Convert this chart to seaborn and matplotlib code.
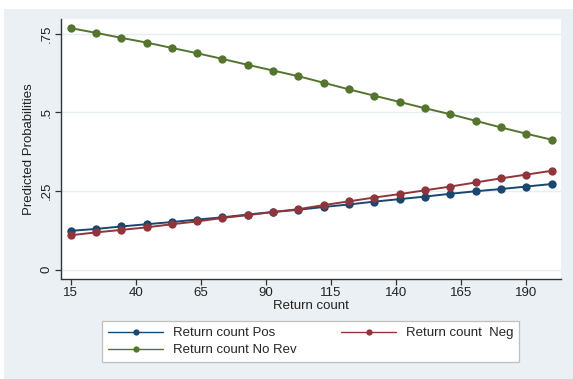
import matplotlib
matplotlib.use("Agg")
import matplotlib.pyplot as plt
from matplotlib.patches import Rectangle
import numpy as np
import pandas as pd
import seaborn as sns

# Return count grid (20 evaluation points between 15 and 200)
return_count = [15.0, 24.7, 34.5, 44.2, 53.9, 63.7, 73.4, 83.2, 92.9, 102.6,
                112.4, 122.1, 131.8, 141.6, 151.3, 161.1, 170.8, 180.5, 190.3, 200.0]

# Predicted probabilities per outcome
prob_pos = [0.123, 0.129, 0.137, 0.144, 0.151, 0.159, 0.166, 0.175, 0.183, 0.190,
            0.199, 0.207, 0.216, 0.224, 0.232, 0.241, 0.249, 0.256, 0.264, 0.272]
prob_neg = [0.109, 0.118, 0.126, 0.134, 0.144, 0.153, 0.164, 0.173, 0.183, 0.192,
            0.205, 0.217, 0.229, 0.240, 0.252, 0.264, 0.277, 0.290, 0.302, 0.314]
prob_norev = [0.768, 0.753, 0.737, 0.722, 0.705, 0.688, 0.670, 0.651, 0.633, 0.615,
              0.594, 0.573, 0.553, 0.533, 0.513, 0.494, 0.473, 0.452, 0.432, 0.413]

series_labels = ["Return count Pos", "Return count  Neg", "Return count No Rev"]
series_colors = ["#1a476f", "#90353b", "#55752f"]

x_ticks = [15, 40, 65, 90, 115, 140, 165, 190]
y_ticks = [0, 0.25, 0.5, 0.75]
y_tick_labels = ["0", ".25", ".5", ".75"]

df = pd.DataFrame({
    "Return count": return_count * 3,
    "Predicted Probabilities": prob_pos + prob_neg + prob_norev,
    "series": [series_labels[0]] * 20 + [series_labels[1]] * 20 + [series_labels[2]] * 20,
})

sns.set_theme(style="white")
plt.rcParams["font.family"] = ["Liberation Sans", "DejaVu Sans"]

W, H = 573, 379
fig = plt.figure(figsize=(W / 100, H / 100), dpi=100)
fig.patch.set_facecolor("white")
# Graph region backdrop
fig.add_artist(Rectangle((4 / W, 0), 1 - 4 / W, (H - 9) / H, transform=fig.transFigure,
                         facecolor="#eaf0f3", edgecolor="none", zorder=0))

ax = fig.add_axes([61 / W, (H - 278.5) / H, (561 - 61) / W, (278.5 - 19) / H])
ax.set_facecolor("white")

sns.lineplot(data=df, x="Return count", y="Predicted Probabilities", hue="series",
             hue_order=series_labels, palette=series_colors, marker="o",
             markersize=6, markeredgewidth=0, linewidth=1.4, ax=ax, legend=False)

ax.set_xlim(11.3, 203.6)
ax.set_ylim(-0.0286, 0.797)
ax.set_xticks(x_ticks)
ax.set_xticklabels([str(t) for t in x_ticks], fontsize=9.5, color="#222222")
ax.set_yticks(y_ticks)
ax.set_yticklabels(y_tick_labels, fontsize=9.5, color="#222222", rotation=90, va="center")
ax.yaxis.grid(True, color="#e6eef1", linewidth=1.0)
ax.xaxis.grid(False)
ax.set_axisbelow(True)

for side in ["top", "right"]:
    ax.spines[side].set_visible(False)
for side in ["left", "bottom"]:
    ax.spines[side].set_color("#333333")
    ax.spines[side].set_linewidth(1.0)
ax.tick_params(axis="both", direction="out", length=4, width=0.9, color="#333333", pad=2)
ax.tick_params(axis="x", bottom=True)
ax.tick_params(axis="y", left=True)

ax.set_xlabel("Return count", fontsize=9.5, color="#222222", labelpad=1)
ax.set_ylabel("Predicted Probabilities", fontsize=9.5, color="#222222", labelpad=4)

# Legend: first row Pos and Neg, second row No Rev
handles = [plt.Line2D([], [], color=c, marker="o", markersize=4.5, markeredgewidth=0,
                      linewidth=1.0) for c in series_colors]
order = [0, 2, 1]
leg = fig.legend([handles[i] for i in order], [series_labels[i] for i in order],
                 ncol=2, loc="center", bbox_to_anchor=(310.5 / W, 1 - 341.7 / H),
                 fontsize=9.5, frameon=True, fancybox=False, framealpha=1,
                 edgecolor="#bfbfbf", handlelength=4.2, handletextpad=0.7,
                 columnspacing=3.4, labelspacing=0.35, borderpad=0.45)
leg.get_frame().set_linewidth(0.9)

fig.savefig("out.png", dpi=100)
